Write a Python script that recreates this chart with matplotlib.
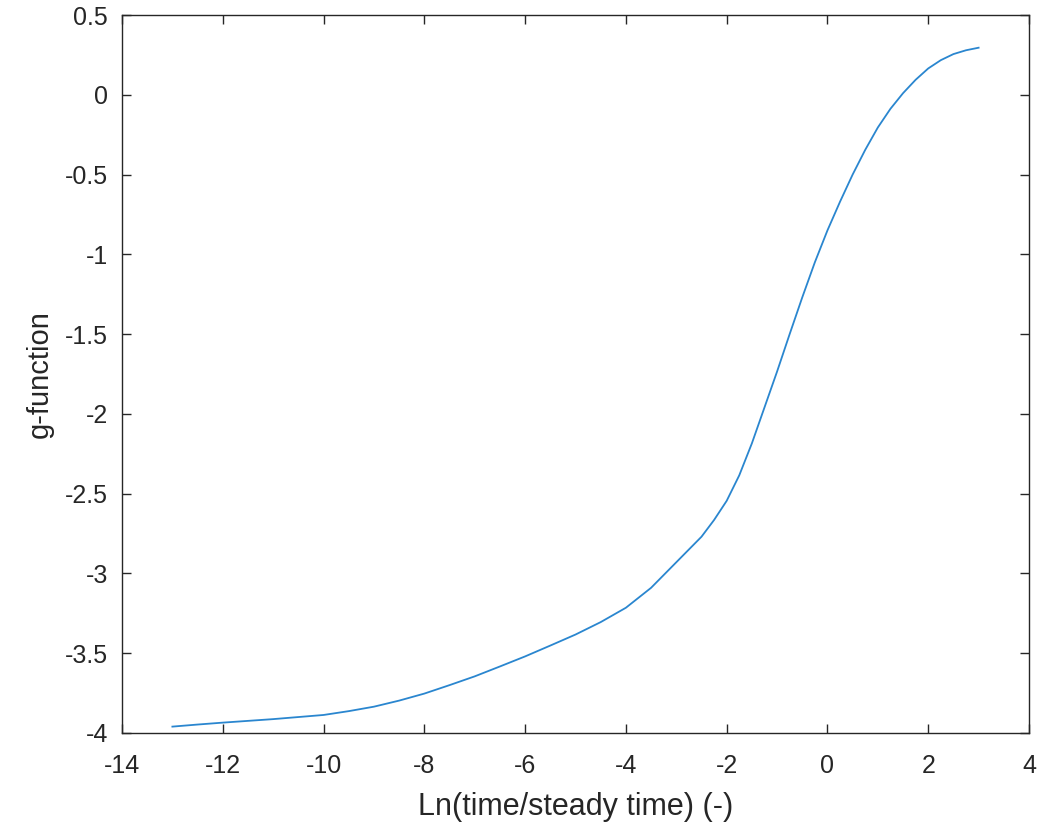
import numpy as np
import matplotlib
matplotlib.use("Agg")
import matplotlib.pyplot as plt
from matplotlib.ticker import FormatStrFormatter, MultipleLocator

plt.rcParams["font.family"] = ["Liberation Sans", "DejaVu Sans"]
plt.rcParams["axes.unicode_minus"] = False

# values
ln_time = [-13.0, -12.5, -12.0, -11.0, -10.0, -9.5, -9.0, -8.5, -8.0, -7.5,
           -7.0, -6.5, -6.0, -5.5, -5.0, -4.5, -4.0, -3.5, -3.0, -2.5,
           -2.25, -2.0, -1.75, -1.5, -1.25, -1.0, -0.75, -0.5, -0.25, 0.0,
           0.25, 0.5, 0.75, 1.0, 1.25, 1.5, 1.75, 2.0, 2.25, 2.5,
           2.75, 3.0]
g_func = [-3.96, -3.947, -3.935, -3.913, -3.887, -3.863, -3.835, -3.797, -3.753, -3.70,
          -3.645, -3.583, -3.52, -3.452, -3.383, -3.305, -3.215, -3.09, -2.93, -2.77,
          -2.665, -2.545, -2.385, -2.185, -1.96, -1.735, -1.50, -1.27, -1.05, -0.85,
          -0.67, -0.50, -0.345, -0.205, -0.088, 0.01, 0.094, 0.165, 0.217, 0.255,
          0.279, 0.295]

fig = plt.figure(figsize=(10.5, 8.26), dpi=100)
ax = fig.add_axes([122/1050, 1 - 733/826, (1029 - 122)/1050, (733 - 15)/826])

ax.plot(ln_time, g_func, color="#2a86cf", lw=1.3)

ax.set_xlim(-14, 4)
ax.set_ylim(-4, 0.5)
ax.xaxis.set_major_locator(MultipleLocator(2))
ax.yaxis.set_major_locator(MultipleLocator(0.5))
ax.xaxis.set_major_formatter(FormatStrFormatter("%g"))
ax.yaxis.set_major_formatter(FormatStrFormatter("%g"))

edge = "#262626"
for s in ax.spines.values():
    s.set_color(edge)
    s.set_linewidth(1.0)
ax.tick_params(direction="in", length=6.5, width=1.0, color=edge,
               labelcolor=edge, labelsize=18, top=True, right=True)
ax.tick_params(axis="x", pad=15)
ax.tick_params(axis="y", pad=10)

ax.set_xlabel("Ln(time/steady time) (-)", fontsize=22, color=edge, labelpad=10)
ax.set_ylabel("g-function", fontsize=21, color=edge, labelpad=8)

fig.savefig("out.png", dpi=100)
